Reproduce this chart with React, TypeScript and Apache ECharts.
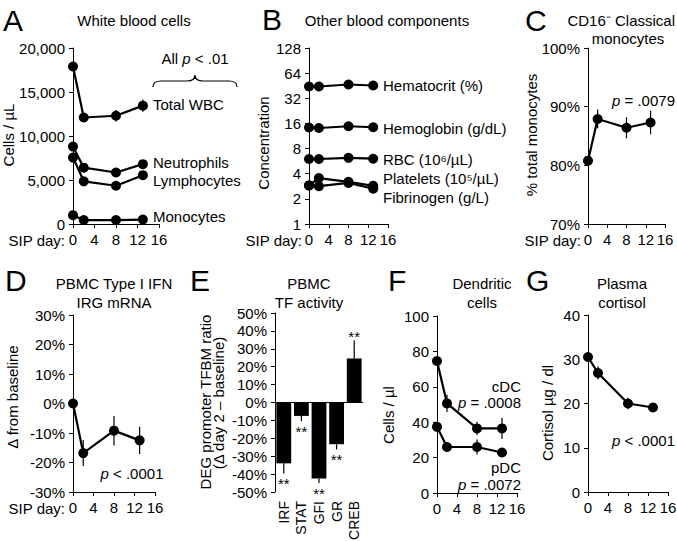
import React, { useEffect, useRef } from 'react';
import * as echarts from 'echarts';

// ---------- data ----------
const days = [0, 2, 8, 13];

const wbcTotal = [17900, 12100, 12300, 13450];
const wbcTotalErr = [250, 350, 650, 700];
const neutrophils = [8800, 6400, 5850, 6800];
const neutrophilsErr = [250, 350, 250, 300];
const lymphocytes = [7550, 4850, 4350, 5550];
const lymphocytesErr = [200, 250, 200, 250];
const monocytes = [1000, 450, 450, 500];
const monocytesErr = [50, 50, 50, 50];

const hematocrit = [44.3, 44.3, 46.8, 45.5];
const hemoglobin = [14.3, 14.1, 14.8, 14.4];
const rbc = [6.0, 6.0, 6.2, 6.05];
const platelets = [2.9, 3.55, 3.2, 2.87];
const fibrinogen = [2.9, 2.84, 3.1, 2.65];

const classicalMono = [80.8, 87.9, 86.4, 87.3];
const classicalMonoErr = [0.3, 1.6, 1.8, 2.0];

const ifnIrg = [0, -16.8, -9.2, -12.5];
const ifnIrgErr = [0, 4.4, 5.0, 4.6];

const tfCategories = ['IRF', 'STAT', 'GFI', 'GR', 'CREB'];
const tfValues = [-34, -7.5, -42.5, -23.3, 24.6];
const tfErr = [5.6, 3, 2.5, 3, 10.2];

const cdc = [74.6, 50.6, 36.5, 36.5];
const cdcErr = [0.5, 4.9, 3.8, 6];
const pdc = [37.4, 26, 26, 22.9];
const pdcErr = [0.5, 2, 4.2, 1];

const cortisol = [30.5, 26.9, 20.0, 19.1];
const cortisolErr = [0.5, 1.5, 1.3, 0.8];

// ---------- style helpers ----------
const FONT = '"Liberation Sans", Arial, Helvetica, sans-serif';
const FS = 15;

try {
  echarts.graphic.registerShape(
    'brace',
    echarts.graphic.extendPath('M0,12 Q0,6 8,6 L34,6 Q42,6 42,0 Q42,6 50,6 L76,6 Q84,6 84,12', {}) as any
  );
} catch (e) {}

const txt = (text: string, x: number, y: number, extra: any = {}) => ({
  type: 'text',
  x,
  y,
  silent: true,
  style: { text, fill: '#000', fontSize: FS, fontFamily: FONT, align: 'left', verticalAlign: 'middle', ...extra },
});
const vtxt = (text: string, x: number, y: number) => ({
  type: 'text',
  x,
  y,
  rotation: Math.PI / 2,
  silent: true,
  style: { text, fill: '#000', fontSize: FS, fontFamily: FONT, align: 'center', verticalAlign: 'middle' },
});
const italicRich = { i: { fontStyle: 'italic', fontSize: FS, fontFamily: FONT, fill: '#000' }, n: { fontSize: FS, fontFamily: FONT, fill: '#000' } };
const ptxt = (text: string, x: number, y: number, align = 'center') => ({
  type: 'text',
  x,
  y,
  silent: true,
  style: { text, rich: italicRich, fill: '#000', fontSize: FS, fontFamily: FONT, align, verticalAlign: 'middle' },
});
const letter = (t: string, x: number, y: number) => txt(t, x, y, { fontSize: 30 });

const axisBase = {
  axisLine: { show: true, onZero: false, lineStyle: { color: '#000', width: 1 } },
  axisTick: { show: true, inside: false, length: 4, lineStyle: { color: '#000', width: 1 } },
  axisLabel: { color: '#000', fontSize: FS, fontFamily: FONT, margin: 8 },
  splitLine: { show: false },
};

const grids = [
  { left: 73, top: 48, width: 86, height: 176 }, // A
  { left: 309, top: 48, width: 79, height: 176 }, // B
  { left: 588, top: 48, width: 77, height: 176 }, // C
  { left: 73, top: 315, width: 82, height: 177 }, // D
  { left: 275, top: 313, width: 88, height: 179 }, // E
  { left: 437, top: 316, width: 80, height: 177 }, // F
  { left: 588, top: 315, width: 80, height: 177 }, // G
].map((g) => ({ ...g, containLabel: false, outerBoundsMode: 'none' }));

const dayAxis = (i: number) => ({ ...axisBase, type: 'value', gridIndex: i, min: 0, max: 16, interval: 4 });

const lineSeries = (i: number, vals: number[]) => ({
  type: 'line',
  xAxisIndex: i,
  yAxisIndex: i,
  data: days.map((d, k) => [d, vals[k]]),
  symbol: 'circle',
  symbolSize: 10,
  lineStyle: { color: '#000', width: 2.2 },
  itemStyle: { color: '#000' },
  z: 3,
  silent: true,
});

const errSeries = (i: number, vals: number[], errs: number[]) => ({
  type: 'custom',
  xAxisIndex: i,
  yAxisIndex: i,
  data: days.map((d, k) => [d, vals[k], errs[k]]),
  encode: { x: 0, y: 1 },
  silent: true,
  z: 2,
  renderItem: (params: any, api: any) => {
    const x = api.value(0);
    const y = api.value(1);
    const e = api.value(2);
    const a = api.coord([x, y + e]);
    const b = api.coord([x, y - e]);
    return { type: 'line', shape: { x1: a[0], y1: a[1], x2: b[0], y2: b[1] }, style: { stroke: '#000', lineWidth: 1.2 } };
  },
});

export default function App() {
  const ref = useRef<HTMLDivElement>(null);
  useEffect(() => {
    if (!ref.current) return;
    const chart = echarts.init(ref.current, null, { renderer: 'svg' });
    const option: any = {
      animation: false,
      backgroundColor: '#fff',
      grid: grids,
      xAxis: [
        dayAxis(0),
        dayAxis(1),
        dayAxis(2),
        dayAxis(3),
        {
          ...axisBase,
          type: 'category',
          gridIndex: 4,
          data: tfCategories,
          axisLine: { show: false },
          axisTick: { show: false },
          axisLabel: { ...axisBase.axisLabel, fontSize: 14, rotate: 90, margin: 9, interval: 0 },
        },
        dayAxis(5),
        dayAxis(6),
      ],
      yAxis: [
        {
          ...axisBase,
          type: 'value',
          gridIndex: 0,
          min: 0,
          max: 20000,
          interval: 5000,
          axisLabel: { ...axisBase.axisLabel, formatter: (v: number) => v.toLocaleString('en-US') },
        },
        { ...axisBase, type: 'log', logBase: 2, gridIndex: 1, min: 1, max: 128 },
        { ...axisBase, type: 'value', gridIndex: 2, min: 70, max: 100, interval: 10, axisLabel: { ...axisBase.axisLabel, formatter: '{value}%' } },
        { ...axisBase, type: 'value', gridIndex: 3, min: -30, max: 30, interval: 10, axisLabel: { ...axisBase.axisLabel, formatter: '{value}%' } },
        { ...axisBase, type: 'value', gridIndex: 4, min: -50, max: 50, interval: 10, axisLabel: { ...axisBase.axisLabel, formatter: '{value}%' } },
        { ...axisBase, type: 'value', gridIndex: 5, min: 0, max: 100, interval: 20 },
        { ...axisBase, type: 'value', gridIndex: 6, min: 0, max: 40, interval: 10 },
      ],
      series: [
        // A
        errSeries(0, wbcTotal, wbcTotalErr),
        errSeries(0, neutrophils, neutrophilsErr),
        errSeries(0, lymphocytes, lymphocytesErr),
        errSeries(0, monocytes, monocytesErr),
        lineSeries(0, wbcTotal),
        lineSeries(0, neutrophils),
        lineSeries(0, lymphocytes),
        lineSeries(0, monocytes),
        // B
        lineSeries(1, hematocrit),
        lineSeries(1, hemoglobin),
        lineSeries(1, rbc),
        lineSeries(1, platelets),
        lineSeries(1, fibrinogen),
        // C
        errSeries(2, classicalMono, classicalMonoErr),
        lineSeries(2, classicalMono),
        // D
        errSeries(3, ifnIrg, ifnIrgErr),
        lineSeries(3, ifnIrg),
        // E
        {
          type: 'bar',
          xAxisIndex: 4,
          yAxisIndex: 4,
          data: tfValues,
          barCategoryGap: '16%',
          itemStyle: { color: '#000' },
          silent: true,
          markLine: {
            silent: true,
            symbol: 'none',
            label: { show: false },
            lineStyle: { color: '#000', width: 1, type: 'solid' },
            data: [{ yAxis: 0 }],
          },
        },
        {
          type: 'custom',
          xAxisIndex: 4,
          yAxisIndex: 4,
          data: tfValues.map((v, i) => [i, v, tfErr[i]]),
          encode: { x: 0, y: 1 },
          silent: true,
          z: 4,
          renderItem: (params: any, api: any) => {
            const i = api.value(0);
            const v = api.value(1);
            const e = api.value(2);
            const s = v < 0 ? -1 : 1;
            const p0 = api.coord([i, v]);
            const p1 = api.coord([i, v + s * e]);
            return {
              type: 'group',
              children: [
                { type: 'line', shape: { x1: p0[0], y1: p0[1], x2: p1[0], y2: p1[1] }, style: { stroke: '#000', lineWidth: 1.2 } },
                {
                  type: 'text',
                  x: p1[0],
                  y: p1[1] + (s < 0 ? 10 : -4),
                  style: { text: '**', fill: '#000', fontSize: FS, fontFamily: FONT, align: 'center', verticalAlign: 'middle' },
                },
              ],
            };
          },
        },
        // F
        errSeries(5, cdc, cdcErr),
        errSeries(5, pdc, pdcErr),
        lineSeries(5, cdc),
        lineSeries(5, pdc),
        // G
        errSeries(6, cortisol, cortisolErr),
        lineSeries(6, cortisol),
      ],
      graphic: [
        // panel letters
        letter('A', 3, 20),
        letter('B', 262, 19),
        letter('C', 525, 20),
        letter('D', 5, 280),
        letter('E', 190, 280),
        letter('F', 388, 280),
        letter('G', 526, 280),
        // titles
        txt('White blood cells', 134, 20, { align: 'center' }),
        txt('Other blood components', 387, 20, { align: 'center' }),
        txt('CD16⁻ Classical', 675, 20, { align: 'right' }),
        txt('monocytes', 628, 38, { align: 'center' }),
        txt('PBMC Type I IFN', 114, 283, { align: 'center' }),
        txt('IRG mRNA', 114, 302, { align: 'center' }),
        txt('PBMC', 309, 283, { align: 'center' }),
        txt('TF activity', 309, 302, { align: 'center' }),
        txt('Dendritic', 482, 283, { align: 'center' }),
        txt('cells', 482, 302, { align: 'center' }),
        txt('Plasma', 622, 283, { align: 'center' }),
        txt('cortisol', 622, 302, { align: 'center' }),
        // y-axis names
        vtxt('Cells / µL', 8, 135),
        vtxt('Concentration', 263, 143),
        vtxt('% total monocytes', 531, 135),
        vtxt('Δ from baseline', 12, 397),
        vtxt('DEG promoter TFBM ratio', 205, 402),
        vtxt('(Δ day 2 – baseline)', 218, 403),
        vtxt('Cells / µl', 388, 415),
        vtxt('Cortisol µg / dl', 547, 413),
        // x-axis names
        txt('SIP day:', 65, 240, { align: 'right' }),
        txt('SIP day:', 302, 240, { align: 'right' }),
        txt('SIP day:', 581, 240, { align: 'right' }),
        txt('SIP day:', 65, 508, { align: 'right' }),
        // panel A annotations
        ptxt('All {i|p} < .01', 195, 58),
        { type: 'brace', x: 153, y: 75, silent: true, style: { stroke: '#000', fill: 'none', lineWidth: 1.2 } },
        txt('Total WBC', 153, 104),
        txt('Neutrophils', 153, 162),
        txt('Lymphocytes', 153, 180),
        txt('Monocytes', 153, 216),
        // panel B labels
        txt('Hematocrit (%)', 383, 85),
        txt('Hemoglobin (g/dL)', 383, 128),
        txt('RBC (10⁶/µL)', 383, 159),
        txt('Platelets (10⁵/µL)', 383, 178),
        txt('Fibrinogen (g/L)', 383, 197),
        // p-values
        ptxt('{i|p} = .0079', 675, 100, 'right'),
        ptxt('{i|p} < .0001', 132, 473),
        txt('cDC', 521, 386, { align: 'right' }),
        ptxt('{i|p} = .0008', 521, 402, 'right'),
        txt('pDC', 521, 467, { align: 'right' }),
        ptxt('{i|p} = .0072', 521, 484, 'right'),
        ptxt('{i|p} < .0001', 675, 440, 'right'),
      ],
    };
    chart.setOption(option);
    return () => chart.dispose();
  }, []);
  return <div ref={ref} style={{ position: 'fixed', left: 0, top: 0, width: 677, height: 541, background: '#fff' }} />;
}
